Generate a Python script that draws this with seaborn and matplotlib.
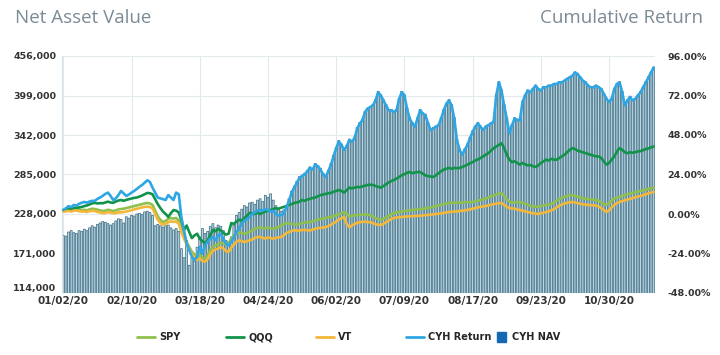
import numpy as np
import pandas as pd
import matplotlib
matplotlib.use("Agg")
from matplotlib import pyplot as plt
from matplotlib.lines import Line2D
from matplotlib.patches import Patch
import seaborn as sns

# daily values (returns in %, NAV in thousands)
tick_labels = ["01/02/20", "02/10/20", "03/18/20", "04/24/20", "06/02/20",
               "07/09/20", "08/17/20", "09/23/20", "10/30/20"]

cyh_return = [
    2.4, 3.5, 4.8, 4.2, 5.5, 5.0, 6.2, 6.8, 7.3, 6.9,
    7.6, 8.0, 8.0, 9.2, 10.0, 11.0, 12.2, 13.0, 11.0, 8.5,
    9.5, 11.5, 14.0, 12.5, 11.0, 11.8, 13.0, 14.0, 15.2, 16.5,
    17.6, 19.0, 20.5, 19.5, 16.0, 13.0, 10.0, 9.5, 9.0, 8.5,
    11.5, 10.0, 8.5, 13.0, 12.0, -2.0, -10.0, -18.0, -22.0, -26.0,
    -28.0, -26.0, -20.0, -24.0, -19.0, -17.0, -15.0, -14.0, -16.0, -13.0,
    -12.0, -15.0, -18.0, -19.0, -17.0, -14.0, -11.0, -9.0, -6.0, -4.0,
    -3.0, -2.0, 0.0, 1.0, 2.0, 2.5, 2.0, 3.0, 2.5, 1.5,
    2.0, 0.0, -1.0, -0.5, 0.0, 4.0, 8.0, 13.0, 16.0, 19.0,
    22.0, 23.0, 24.0, 26.0, 28.0, 27.0, 30.0, 29.0, 27.0, 24.0,
    22.5, 26.0, 30.0, 35.0, 40.0, 44.0, 42.0, 39.0, 41.0, 45.0,
    44.0, 46.0, 52.0, 55.0, 57.0, 62.0, 64.0, 65.0, 66.0, 69.0,
    74.0, 72.0, 69.0, 66.0, 63.0, 63.0, 62.0, 63.0, 70.0, 74.0,
    72.0, 64.0, 58.0, 55.0, 53.0, 58.0, 63.0, 61.0, 60.0, 55.0,
    51.0, 52.0, 53.0, 54.0, 58.0, 63.0, 67.0, 69.0, 66.0, 58.0,
    45.0, 39.0, 36.0, 39.0, 42.0, 46.0, 50.0, 53.0, 55.0, 53.0,
    51.0, 53.0, 54.0, 55.0, 56.0, 72.0, 80.0, 75.0, 66.0, 58.0,
    49.0, 54.0, 58.0, 57.0, 57.0, 68.0, 72.0, 75.0, 74.0, 76.0,
    78.0, 76.0, 75.0, 77.0, 77.0, 78.0, 78.0, 79.0, 79.0, 80.0,
    80.0, 81.0, 82.0, 83.0, 84.0, 86.0, 85.0, 83.0, 81.0, 80.0,
    78.0, 77.0, 77.0, 78.0, 77.0, 76.0, 73.0, 70.0, 68.0, 70.0,
    76.0, 79.0, 80.0, 74.0, 66.0, 69.0, 71.0, 69.0, 70.0, 72.0,
    74.0, 77.0, 80.0, 83.0, 86.0, 89.0]

qqq = [
    2.4, 2.8, 3.2, 3.0, 3.6, 3.8, 4.0, 4.3, 4.8, 5.2,
    5.8, 6.5, 6.8, 6.4, 6.6, 6.5, 7.0, 7.5, 7.0, 6.8,
    7.6, 8.2, 8.5, 8.0, 8.6, 9.0, 9.4, 9.8, 10.0, 10.6,
    11.2, 12.0, 12.8, 12.6, 12.0, 9.0, 6.0, 3.6, 1.5, 0.0,
    -1.8, 0.5, 2.4, 2.0, 1.0, -4.0, -9.7, -7.0, -11.0, -14.6,
    -13.0, -12.0, -15.0, -16.5, -17.6, -16.0, -13.0, -9.7, -10.5, -9.0,
    -10.0, -11.5, -12.5, -12.0, -5.5, -6.0, -4.5, -3.5, -4.0, -2.5,
    -1.0, 0.6, 0.5, 0.0, 0.8, 0.0, 0.8, 1.5, 2.0, 2.4,
    3.0, 3.5, 3.2, 3.8, 4.3, 4.8, 5.5, 6.0, 6.7, 7.0,
    7.5, 8.5, 8.0, 8.8, 9.2, 9.7, 10.0, 10.8, 11.5, 11.8,
    12.2, 12.6, 12.8, 13.5, 14.0, 14.6, 14.0, 13.0, 14.5, 16.0,
    15.6, 16.0, 16.5, 16.2, 16.8, 17.2, 17.6, 17.8, 17.6, 17.0,
    16.5, 16.0, 17.0, 18.0, 19.2, 20.0, 20.7, 21.5, 22.5, 23.5,
    24.2, 25.0, 25.5, 24.8, 25.2, 25.5, 25.5, 24.5, 23.5, 23.0,
    22.8, 22.5, 23.5, 24.8, 26.0, 27.0, 27.5, 28.0, 27.5, 28.0,
    27.8, 28.0, 28.5, 29.2, 30.0, 30.8, 31.5, 32.5, 33.2, 34.0,
    35.0, 36.0, 37.0, 38.5, 40.0, 41.0, 42.0, 43.0, 40.0, 36.0,
    33.0, 31.6, 32.0, 31.0, 30.0, 31.0, 30.2, 29.5, 29.8, 29.0,
    28.6, 29.5, 31.0, 32.0, 33.0, 32.5, 33.5, 33.0, 33.0, 34.0,
    35.0, 36.0, 37.5, 39.0, 40.0, 39.5, 38.5, 38.0, 37.5, 37.0,
    36.5, 36.0, 35.5, 35.0, 35.0, 34.0, 32.0, 30.0, 31.0, 33.0,
    35.0, 38.0, 40.0, 39.0, 37.5, 37.0, 37.5, 37.2, 37.6, 38.0,
    38.2, 38.8, 39.5, 39.8, 40.5, 41.0]

spy = [
    2.0, 2.2, 2.6, 2.2, 2.8, 3.0, 2.6, 2.4, 2.5, 2.2,
    2.8, 3.2, 3.0, 2.6, 2.2, 1.8, 2.0, 2.6, 2.2, 1.8,
    2.2, 2.8, 3.0, 3.2, 3.6, 4.0, 4.4, 4.8, 5.2, 5.6,
    6.0, 6.4, 6.7, 6.4, 5.5, 2.0, -1.5, -3.5, -4.9, -4.2,
    -3.0, -2.4, -2.8, -2.4, -4.0, -9.0, -14.0, -17.0, -20.0, -23.0,
    -24.5, -26.0, -25.0, -26.5, -27.0, -25.0, -22.0, -20.0, -19.0, -18.5,
    -17.6, -18.0, -18.5, -17.6, -15.0, -13.0, -12.0, -11.0, -11.5, -12.0,
    -11.5, -11.0, -10.0, -9.0, -8.5, -8.0, -8.5, -9.0, -8.2, -8.6,
    -9.0, -8.5, -8.0, -7.0, -6.2, -5.5, -5.8, -6.0, -6.2, -6.5,
    -6.0, -5.6, -5.2, -5.0, -4.9, -4.6, -4.0, -3.5, -3.0, -2.8,
    -2.4, -2.2, -1.8, -1.2, -0.8, -0.2, 0.5, 1.2, 0.0, -1.5,
    -1.0, -0.8, -0.6, -0.6, -0.4, -0.2, -0.5, -0.6, -1.5, -2.5,
    -3.2, -3.6, -3.0, -2.0, -1.2, 0.0, 0.6, 1.0, 1.2, 1.5,
    1.8, 2.0, 2.2, 2.4, 2.6, 2.8, 3.0, 3.2, 3.4, 3.6,
    4.0, 4.4, 4.8, 5.2, 5.6, 6.0, 6.4, 6.7, 6.8, 6.9,
    6.8, 6.9, 7.0, 7.1, 7.2, 7.2, 7.3, 7.6, 8.0, 8.5,
    9.0, 9.5, 10.0, 10.6, 11.2, 11.8, 12.4, 12.8, 11.0, 9.0,
    7.5, 7.0, 7.2, 7.0, 7.3, 6.8, 6.2, 5.6, 5.0, 4.6,
    4.4, 4.3, 4.8, 5.2, 5.6, 5.8, 6.0, 7.0, 8.0, 9.0,
    9.8, 10.5, 11.0, 11.3, 11.5, 11.0, 10.5, 10.0, 9.6, 9.2,
    9.0, 9.0, 8.8, 8.5, 8.0, 7.0, 6.0, 5.5, 6.5, 8.0,
    9.5, 10.0, 10.3, 11.0, 11.5, 12.0, 12.5, 12.8, 13.2, 13.6,
    14.0, 14.4, 14.8, 15.2, 15.6, 16.0]

vt = [
    1.5, 1.6, 1.9, 1.5, 2.0, 2.1, 1.7, 1.5, 1.5, 1.2,
    1.7, 2.0, 1.8, 1.3, 0.9, 0.5, 0.6, 1.2, 0.8, 0.4,
    0.6, 1.0, 1.0, 1.2, 1.5, 1.9, 2.3, 2.8, 3.2, 3.6,
    4.0, 4.3, 4.5, 4.2, 3.5, 0.0, -3.5, -5.5, -6.5, -6.0,
    -5.0, -4.5, -4.8, -4.5, -6.0, -11.0, -15.0, -18.5, -21.5, -24.5,
    -26.5, -28.0, -27.0, -28.5, -29.0, -27.5, -24.5, -22.5, -21.5, -21.0,
    -20.0, -21.0, -22.5, -23.0, -20.5, -18.5, -17.0, -16.0, -16.5, -17.0,
    -16.5, -16.0, -15.5, -14.5, -14.0, -14.0, -14.5, -15.0, -14.2, -14.6,
    -15.0, -14.5, -14.2, -14.0, -13.0, -11.5, -11.0, -10.4, -9.7, -10.2,
    -10.0, -9.8, -9.6, -9.9, -10.0, -9.5, -9.0, -8.6, -8.4, -8.2,
    -8.0, -7.4, -6.5, -5.6, -4.6, -3.4, -2.5, -1.8, -6.0, -8.0,
    -7.0, -6.0, -5.4, -4.9, -4.8, -4.7, -4.9, -5.0, -5.6, -6.2,
    -6.5, -6.7, -6.0, -5.0, -4.0, -3.0, -2.4, -2.2, -2.0, -1.8,
    -1.6, -1.5, -1.4, -1.3, -1.2, -1.1, -1.0, -0.9, -0.7, -0.6,
    -0.4, -0.2, 0.0, 0.2, 0.4, 0.6, 1.0, 1.2, 1.4, 1.5,
    1.6, 1.8, 2.0, 2.2, 2.5, 2.8, 3.2, 3.6, 4.0, 4.4,
    4.6, 4.9, 5.2, 5.6, 6.0, 6.3, 6.5, 6.7, 5.5, 4.4,
    3.6, 3.4, 3.2, 2.8, 2.4, 2.0, 1.6, 1.2, 0.8, 0.4,
    0.2, 0.0, 0.4, 0.8, 1.2, 1.6, 2.2, 3.0, 4.0, 5.0,
    5.8, 6.4, 6.8, 7.1, 7.3, 7.0, 6.6, 6.2, 5.9, 5.7,
    5.5, 5.4, 5.3, 5.0, 4.6, 3.6, 2.4, 1.2, 2.2, 4.0,
    5.5, 6.6, 7.3, 7.8, 8.3, 8.8, 9.2, 9.7, 10.2, 10.6,
    11.0, 11.5, 12.0, 12.5, 13.0, 13.4]

cyh_nav = [
    197, 196, 202, 204, 201, 200, 204, 203, 206, 204,
    208, 211, 209, 213, 215, 217, 216, 214, 212, 214,
    218, 221, 220, 215, 224, 222, 226, 225, 228, 229,
    227, 231, 232, 230, 226, 211, 213, 211, 209, 211,
    212, 208, 205, 207, 203, 178, 165, 190, 154, 165,
    160, 180, 195, 207, 200, 203, 210, 214, 208, 212,
    210, 204, 190, 188, 195, 212, 226, 230, 235, 240,
    238, 244, 245, 242, 248, 250, 246, 255, 252, 257,
    248, 240, 236, 232, 234, 240, 250, 261, 268, 275,
    282, 284, 287, 291, 296, 294, 301, 298, 294, 287,
    283, 291, 301, 313, 324, 334, 329, 322, 327, 336,
    334, 339, 353, 360, 365, 376, 381, 383, 386, 393,
    405, 400, 393, 386, 379, 379, 376, 379, 395, 405,
    400, 381, 367, 360, 355, 367, 379, 374, 372, 360,
    350, 353, 355, 357, 367, 379, 388, 393, 386, 367,
    336, 322, 315, 322, 329, 339, 348, 355, 360, 355,
    350, 355, 357, 360, 362, 400, 419, 407, 386, 367,
    346, 357, 367, 365, 365, 390, 400, 407, 405, 409,
    414, 409, 407, 412, 412, 414, 414, 416, 416, 419,
    419, 421, 424, 426, 428, 433, 431, 426, 421, 419,
    414, 412, 412, 414, 412, 409, 402, 395, 390, 395,
    409, 416, 419, 405, 386, 393, 398, 393, 395, 400,
    405, 412, 419, 426, 433, 440]

day = list(range(len(cyh_nav)))
nav = pd.DataFrame({"day": day, "nav": [v * 1000 for v in cyh_nav]})
ret = pd.DataFrame({"day": day, "SPY": spy, "QQQ": qqq, "VT": vt,
                    "CYH Return": cyh_return})

colors = {"SPY": "#8fc04e", "QQQ": "#12934a", "VT": "#f3b73a",
          "CYH Return": "#2fa6e4"}
bar_fill = "#bcd6e0"
bar_edge = "#3f6f86"
nav_patch = "#1668b4"

sns.set_style("white")
plt.rcParams["font.family"] = ["DejaVu Sans"]

fig = plt.figure(figsize=(7.2, 3.55), dpi=100)
ax = fig.add_axes([62 / 720, 1 - 293 / 355, 593 / 720, 237 / 355])

sns.barplot(data=nav, x="day", y="nav", ax=ax, color=bar_fill,
            width=0.75, saturation=1, native_scale=True,
            edgecolor=bar_edge, linewidth=0.55, snap=False)
ax.set_ylim(114000, 456000)
ax.set_yticks(np.arange(114000, 456001, 57000))
ax.set_yticklabels([f"{v:,}" for v in range(114000, 456001, 57000)])
ax.set_xlim(-0.5, len(day) - 0.5)
ax.set_xticks(np.arange(0, 26 * len(tick_labels), 26))
ax.set_xticklabels(tick_labels)
ax.set_xlabel("")
ax.set_ylabel("")
ax.grid(True, color="#e2eaee", linewidth=0.8)
ax.set_axisbelow(True)

ax2 = ax.twinx()
for name in ["SPY", "QQQ", "VT", "CYH Return"]:
    sns.lineplot(data=ret, x="day", y=name, ax=ax2, color=colors[name],
                 linewidth=1.9, legend=False)
ax2.set_ylim(-48, 96)
ax2.set_yticks(np.arange(-48, 97, 24))
ax2.set_yticklabels([f"{v:.2f}%" for v in range(-48, 97, 24)])
ax2.set_ylabel("")
ax2.set_xlim(-0.5, len(day) - 0.5)

for a in (ax, ax2):
    for s in ["top", "right", "bottom"]:
        a.spines[s].set_visible(False)
    a.spines["left"].set_color("#d8e2e6")
    a.tick_params(length=0, colors="#333333")
ax2.spines["left"].set_visible(False)
ax.tick_params(axis="y", labelsize=6.8, pad=4)
ax.tick_params(axis="x", labelsize=7.5, pad=2)
ax2.tick_params(axis="y", labelsize=6.8, pad=9)
for lab in ax.get_xticklabels() + ax.get_yticklabels() + ax2.get_yticklabels():
    lab.set_fontweight("bold")
# bottom value label sits a touch higher, as in the original
ax.get_yticklabels()[0].set_va("bottom")

fig.text(15 / 720, 1 - 18 / 355, "Net Asset Value", fontsize=13.5,
         color="#7b8b96", family="Open Sans", va="center", ha="left")
fig.text(703 / 720, 1 - 18 / 355, "Cumulative Return", fontsize=13.5,
         color="#7b8b96", family="Open Sans", va="center", ha="right")

# legend entries spaced like the original
entries = [("SPY", 137), ("QQQ", 226), ("VT", 316), ("CYH Return", 406)]
for name, xpos in entries:
    h = Line2D([], [], color=colors[name], linewidth=2.0)
    fig.legend(handles=[h], labels=[name], loc="center left",
               bbox_to_anchor=(xpos / 720, 1 - 337 / 355), frameon=False,
               handlelength=1.8, handletextpad=0.5,
               borderpad=0, borderaxespad=0,
               prop={"weight": "bold", "size": 7})
h = Patch(color=nav_patch)
fig.legend(handles=[h], labels=["CYH NAV"], loc="center left",
           bbox_to_anchor=(497 / 720, 1 - 337 / 355), frameon=False,
           handlelength=0.9, handleheight=1.3, handletextpad=0.6,
           borderpad=0, borderaxespad=0, prop={"weight": "bold", "size": 7})

fig.savefig("out.png", dpi=100)
